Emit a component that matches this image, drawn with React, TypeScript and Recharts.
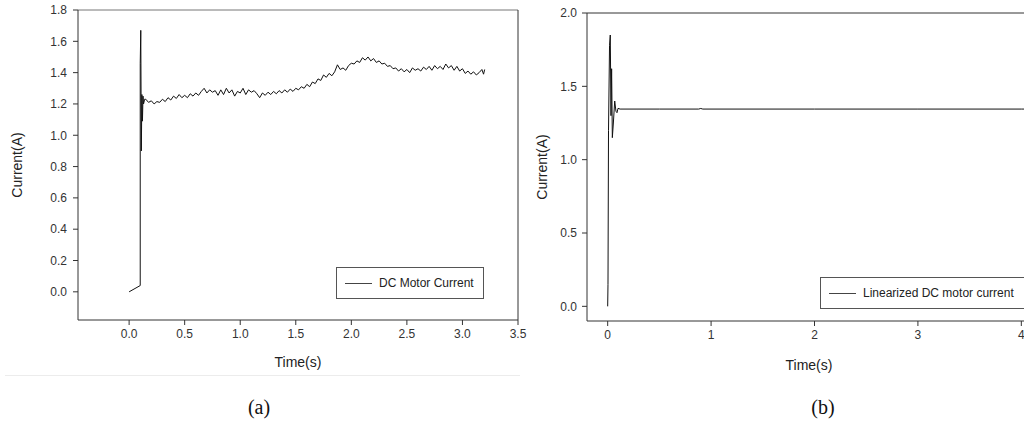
import React from 'react';
import { LineChart, Line, XAxis, YAxis, ReferenceLine, Legend } from 'recharts';

// (a) DC motor current: time (s) and current (A)
const timeA: number[] = [
  0, 0.1, 0.1, 0.105, 0.11, 0.115, 0.12, 0.125, 0.13, 0.14,
  0.15, 0.175, 0.2, 0.225, 0.25, 0.275, 0.3, 0.325, 0.35, 0.375,
  0.4, 0.425, 0.45, 0.475, 0.5, 0.525, 0.55, 0.575, 0.6, 0.625,
  0.65, 0.675, 0.7, 0.725, 0.75, 0.775, 0.8, 0.825, 0.85, 0.875,
  0.9, 0.925, 0.95, 0.975, 1.0, 1.025, 1.05, 1.075, 1.1, 1.125,
  1.15, 1.175, 1.2, 1.225, 1.25, 1.275, 1.3, 1.325, 1.35, 1.375,
  1.4, 1.425, 1.45, 1.475, 1.5, 1.525, 1.55, 1.575, 1.6, 1.625,
  1.65, 1.675, 1.7, 1.725, 1.75, 1.775, 1.8, 1.825, 1.85, 1.875,
  1.9, 1.925, 1.95, 1.975, 2.0, 2.025, 2.05, 2.075, 2.1, 2.125,
  2.15, 2.175, 2.2, 2.225, 2.25, 2.275, 2.3, 2.325, 2.35, 2.375,
  2.4, 2.425, 2.45, 2.475, 2.5, 2.525, 2.55, 2.575, 2.6, 2.625,
  2.65, 2.675, 2.7, 2.725, 2.75, 2.775, 2.8, 2.825, 2.85, 2.875,
  2.9, 2.925, 2.95, 2.975, 3.0, 3.025, 3.05, 3.075, 3.1, 3.125,
  3.15, 3.175, 3.19, 3.2,
];
const currentA: number[] = [
  0.0, 0.04, 1.46, 1.67, 0.9, 1.26, 1.09, 1.25, 1.2, 1.23,
  1.23, 1.21, 1.22, 1.2, 1.215, 1.21, 1.23, 1.215, 1.24, 1.225,
  1.25, 1.235, 1.26, 1.24, 1.255, 1.24, 1.265, 1.25, 1.27, 1.255,
  1.28, 1.3, 1.27, 1.29, 1.275, 1.285, 1.255, 1.29, 1.26, 1.3,
  1.27, 1.29, 1.25, 1.28, 1.27, 1.3, 1.26, 1.29, 1.275, 1.285,
  1.265, 1.24, 1.27, 1.255, 1.275, 1.26, 1.28, 1.265, 1.285, 1.27,
  1.29, 1.275, 1.295, 1.28, 1.3, 1.29, 1.31, 1.3, 1.325, 1.31,
  1.34, 1.33, 1.36, 1.35, 1.385, 1.37, 1.395, 1.38, 1.405, 1.45,
  1.42, 1.43, 1.415, 1.445, 1.46, 1.455, 1.475, 1.465, 1.495, 1.48,
  1.5, 1.475, 1.49, 1.465, 1.475, 1.455, 1.46, 1.44, 1.445, 1.425,
  1.43, 1.41, 1.425, 1.405, 1.42, 1.4, 1.43, 1.415, 1.425, 1.41,
  1.435, 1.42, 1.44, 1.415, 1.445, 1.425, 1.44, 1.42, 1.455, 1.43,
  1.445, 1.415, 1.44, 1.41, 1.425, 1.395, 1.41, 1.39, 1.405, 1.385,
  1.4, 1.42, 1.39, 1.42,
];
const ticksAX: number[] = [0, 0.5, 1.0, 1.5, 2.0, 2.5, 3.0, 3.5];
const ticksAY: number[] = [0, 0.2, 0.4, 0.6, 0.8, 1.0, 1.2, 1.4, 1.6, 1.8];

// (b) Linearized DC motor current
const timeB: number[] = [
  0, 0.003, 0.008, 0.018, 0.025, 0.032, 0.038, 0.045, 0.055, 0.068,
  0.08, 0.09, 0.1, 0.12, 0.5, 0.88, 0.9, 0.92, 2.0, 3.0, 4.0, 4.3,
];
const currentB: number[] = [
  0, 0.15, 1.2, 1.78, 1.85, 1.3, 1.62, 1.15, 1.25, 1.4,
  1.33, 1.32, 1.35, 1.345, 1.345, 1.345, 1.349, 1.345, 1.345, 1.345, 1.345, 1.345,
];
const ticksBX: number[] = [0, 1, 2, 3, 4];
const ticksBY: number[] = [0, 0.5, 1.0, 1.5, 2.0];

const dataA = timeA.map((t, i) => ({ t, v: currentA[i] }));
const dataB = timeB.map((t, i) => ({ t, v: currentB[i] }));

const FONT = '"Liberation Sans", Arial, sans-serif';
const AXIS = '#333';

const fmt1 = (v: number) => v.toFixed(1);

function LegendBox({ label, width }: { label: string; width: number }) {
  return (
    <div
      style={{
        boxSizing: 'border-box',
        width,
        height: 32,
        border: '1px solid #555',
        background: '#fff',
        display: 'flex',
        alignItems: 'center',
        fontFamily: FONT,
        fontSize: 12,
        color: '#222',
        whiteSpace: 'nowrap',
      }}
    >
      <span style={{ display: 'inline-block', width: 27, height: 0, borderTop: '1px solid #444', marginLeft: 8, marginRight: 7 }} />
      <span>{label}</span>
    </div>
  );
}

export default function App() {
  return (
    <div style={{ position: 'absolute', left: 0, top: 0, width: 1024, height: 439, overflow: 'hidden', background: '#fff' }}>
      {/* (a) */}
      <div style={{ position: 'absolute', left: 0, top: 0 }}>
        <LineChart width={530} height={380} data={dataA} margin={{ top: 10, right: 12, left: 0, bottom: 0 }}>
          <XAxis
            dataKey="t"
            type="number"
            domain={[-0.46, 3.5]}
            ticks={ticksAX}
            tickFormatter={fmt1}
            allowDataOverflow
            height={60}
            stroke={AXIS}
            tickSize={5}
            tickMargin={4}
            tick={{ fontFamily: FONT, fontSize: 12, fill: '#333' }}
            label={{
              content: ({ viewBox }: any) => (
                <text x={viewBox.x + viewBox.width / 2} y={viewBox.y + 42} textAnchor="middle" dominantBaseline="central" fontFamily={FONT} fontSize={14} fill="#222">
                  Time(s)
                </text>
              ),
            }}
          />
          <YAxis
            type="number"
            domain={[-0.18, 1.8]}
            ticks={ticksAY}
            tickFormatter={fmt1}
            allowDataOverflow
            width={78}
            stroke={AXIS}
            tickSize={5}
            tickMargin={6}
            tick={{ fontFamily: FONT, fontSize: 12, fill: '#333' }}
            label={{
              content: ({ viewBox }: any) => (
                <text
                  x={viewBox.x + 17}
                  y={viewBox.y + viewBox.height / 2}
                  transform={`rotate(-90 ${viewBox.x + 17} ${viewBox.y + viewBox.height / 2})`}
                  textAnchor="middle"
                  dominantBaseline="central"
                  fontFamily={FONT}
                  fontSize={14}
                  fill="#222"
                >
                  Current(A)
                </text>
              ),
            }}
          />
          <ReferenceLine y={1.8} stroke="#777" strokeWidth={1} />
          <ReferenceLine x={3.5} stroke={AXIS} strokeWidth={1} />
          <Legend
            layout="horizontal"
            verticalAlign="middle"
            align="center"
            content={() => <LegendBox label="DC Motor Current" width={148} />}
            wrapperStyle={{ left: 336, top: 267, width: 148, height: 32, bottom: 'auto' }}
          />
          <Line dataKey="v" name="DC Motor Current" stroke="#111" strokeWidth={1} dot={false} isAnimationActive={false} />
        </LineChart>
      </div>
      <div style={{ position: 'absolute', left: 5, top: 375, width: 515, height: 1, background: '#ececec' }} />

      {/* (b) */}
      <div style={{ position: 'absolute', left: 500, top: 0 }}>
        <LineChart width={545} height={380} data={dataB} margin={{ top: 13, right: 3, left: 0, bottom: 0 }}>
          <XAxis
            dataKey="t"
            type="number"
            domain={[-0.2, 4.2]}
            ticks={ticksBX}
            allowDataOverflow
            height={59}
            stroke={AXIS}
            tickSize={5}
            tickMargin={4}
            tick={{ fontFamily: FONT, fontSize: 12, fill: '#333' }}
            label={{
              content: ({ viewBox }: any) => (
                <text x={309} y={viewBox.y + 44} textAnchor="middle" dominantBaseline="central" fontFamily={FONT} fontSize={14} fill="#222">
                  Time(s)
                </text>
              ),
            }}
          />
          <YAxis
            type="number"
            domain={[-0.1, 2.0]}
            ticks={ticksBY}
            tickFormatter={fmt1}
            allowDataOverflow
            width={87}
            stroke={AXIS}
            tickSize={5}
            tickMargin={5}
            tick={{ fontFamily: FONT, fontSize: 12, fill: '#333' }}
            label={{
              content: ({ viewBox }: any) => (
                <text
                  x={viewBox.x + 42}
                  y={viewBox.y + viewBox.height / 2}
                  transform={`rotate(-90 ${viewBox.x + 42} ${viewBox.y + viewBox.height / 2})`}
                  textAnchor="middle"
                  dominantBaseline="central"
                  fontFamily={FONT}
                  fontSize={14}
                  fill="#222"
                >
                  Current(A)
                </text>
              ),
            }}
          />
          <ReferenceLine y={2.0} stroke={AXIS} strokeWidth={1} />
          <Legend
            layout="horizontal"
            verticalAlign="middle"
            align="center"
            content={() => <LegendBox label="Linearized DC motor current" width={220} />}
            wrapperStyle={{ left: 320, top: 277, width: 220, height: 32, bottom: 'auto' }}
          />
          <Line dataKey="v" name="Linearized DC motor current" stroke="#111" strokeWidth={1} dot={false} isAnimationActive={false} />
        </LineChart>
      </div>

      <div style={{ position: 'absolute', left: 209, top: 396, width: 100, textAlign: 'center', fontFamily: '"Liberation Serif", "Times New Roman", serif', fontSize: 20, color: '#111' }}>(a)</div>
      <div style={{ position: 'absolute', left: 773, top: 396, width: 100, textAlign: 'center', fontFamily: '"Liberation Serif", "Times New Roman", serif', fontSize: 20, color: '#111' }}>(b)</div>
    </div>
  );
}
